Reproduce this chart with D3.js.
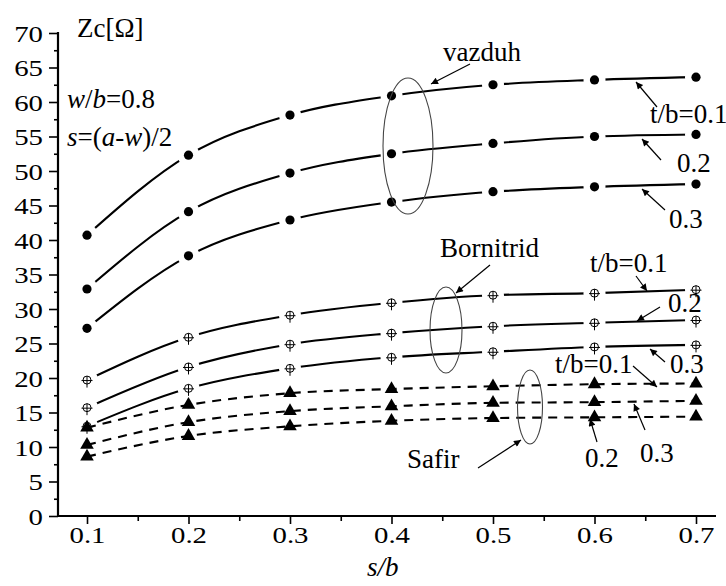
<!DOCTYPE html>
<html><head><meta charset="utf-8">
<script src="https://cdn.jsdelivr.net/npm/d3@7"></script>
<style>
html,body{margin:0;padding:0;background:#fff;}
svg{display:block;}
svg text{font-family:"Liberation Serif","Times New Roman",serif !important;}
</style></head>
<body><svg id="c" width="726" height="586"></svg>
<script>
// ---- data ----
const sb = [0.1, 0.2, 0.3, 0.4, 0.5, 0.6, 0.7];
const vazduh01 = [40.7, 52.3, 58.1, 60.9, 62.5, 63.2, 63.6];
const vazduh02 = [32.9, 44.1, 49.7, 52.5, 54.0, 55.0, 55.3];
const vazduh03 = [27.2, 37.7, 42.9, 45.5, 47.0, 47.7, 48.1];
const bornitrid01 = [19.7, 25.9, 29.1, 30.9, 32.0, 32.3, 32.8];
const bornitrid02 = [15.7, 21.6, 24.9, 26.5, 27.5, 28.0, 28.4];
const bornitrid03 = [13.0, 18.5, 21.4, 23.0, 23.8, 24.5, 24.8];
const safir01 = [12.8, 16.1, 17.8, 18.4, 18.8, 19.1, 19.2];
const safir02 = [10.3, 13.6, 15.2, 15.9, 16.4, 16.5, 16.7];
const safir03 = [8.6, 11.6, 13.0, 13.8, 14.2, 14.3, 14.4];
const xMajorTicks = [0.1, 0.2, 0.3, 0.4, 0.5, 0.6, 0.7];
const xMinorTicks = [0.15, 0.25, 0.35, 0.45, 0.55, 0.65];
const yMajorTicks = [0, 5, 10, 15, 20, 25, 30, 35, 40, 45, 50, 55, 60, 65, 70];
const yMinorTicks = [2.5, 7.5, 12.5, 17.5, 22.5, 27.5, 32.5, 37.5, 42.5, 47.5, 52.5, 57.5, 62.5, 67.5];

const series = [
  {id:"v1", vals:vazduh01, kind:"dot"},
  {id:"v2", vals:vazduh02, kind:"dot"},
  {id:"v3", vals:vazduh03, kind:"dot"},
  {id:"b1", vals:bornitrid01, kind:"cross"},
  {id:"b2", vals:bornitrid02, kind:"cross"},
  {id:"b3", vals:bornitrid03, kind:"cross"},
  {id:"s1", vals:safir01, kind:"tri"},
  {id:"s2", vals:safir02, kind:"tri"},
  {id:"s3", vals:safir03, kind:"tri"}
];

// ---- scales ----
const x = d3.scaleLinear().domain([0.1 - 29/1015, 0.7 + 20/1015]).range([58, 716]);
const y = d3.scaleLinear().domain([0, 70]).range([516, 33]);

const svg = d3.select("#c");
svg.append("rect").attr("width",726).attr("height",586).attr("fill","#fff");
const defs = svg.append("defs");
defs.append("marker").attr("id","ah").attr("viewBox","0 0 10 10")
  .attr("refX",10).attr("refY",5).attr("markerWidth",11).attr("markerHeight",7)
  .attr("markerUnits","userSpaceOnUse").attr("orient","auto")
  .append("path").attr("d","M0,0 L10,5 L0,10 Z").attr("fill","#000");

// ---- axes ----
function styleAxis(g){
  g.attr("font-family", null);
  g.selectAll("line").attr("stroke","#000").attr("stroke-width",1.6);
  g.selectAll("text").attr("fill","#000").attr("font-size",24);
}
const gx = svg.append("g").attr("transform","translate(0,516)");
gx.call(d3.axisBottom(x).tickValues(xMajorTicks).tickSize(8).tickPadding(5).tickFormat(d3.format(".1f")))
  .call(g=>g.select(".domain").remove()).call(styleAxis);
gx.selectAll("text").attr("transform","scale(1.2,1)").attr("dy","0.71em").attr("y",10);
const gxm = svg.append("g").attr("transform","translate(0,516)");
gxm.call(d3.axisBottom(x).tickValues(xMinorTicks).tickSize(5).tickFormat(""))
  .call(g=>g.select(".domain").remove()).call(styleAxis);

const gy = svg.append("g").attr("transform","translate(58,0)");
gy.call(d3.axisLeft(y).tickValues(yMajorTicks).tickSize(9).tickFormat(d3.format("d")))
  .call(g=>g.select(".domain").remove()).call(styleAxis);
gy.selectAll("text").attr("transform","scale(1.2,1)").attr("x",-15/1.2).attr("dy","0.35em");
const gym = svg.append("g").attr("transform","translate(58,0)");
gym.call(d3.axisLeft(y).tickValues(yMinorTicks).tickSize(4).tickFormat(""))
  .call(g=>g.select(".domain").remove()).call(styleAxis);

svg.append("line").attr("x1",57).attr("x2",716).attr("y1",516).attr("y2",516).attr("stroke","#000").attr("stroke-width",2.2);
svg.append("line").attr("x1",58).attr("x2",58).attr("y1",y(70)-1).attr("y2",517).attr("stroke","#000").attr("stroke-width",2.2);

// ---- lines ----
const line = d3.line().x(d=>x(d[0])).y(d=>y(d[1])).curve(d3.curveMonotoneX);
series.forEach(s=>{
  const pts = sb.map((v,i)=>[v, s.vals[i]]);
  const path = svg.append("path").attr("d", line(pts)).attr("fill","none")
    .attr("stroke","#000").attr("stroke-width",2.1);
  if (s.kind === "tri") {
    path.attr("stroke-dasharray","9,7");
  } else {
    const m = defs.append("mask").attr("id","m"+s.id).attr("maskUnits","userSpaceOnUse")
      .attr("x",0).attr("y",0).attr("width",726).attr("height",586);
    m.append("rect").attr("width",726).attr("height",586).attr("fill","#fff");
    m.selectAll("circle").data(pts).join("circle")
      .attr("cx",d=>x(d[0])).attr("cy",d=>y(d[1])).attr("r",11).attr("fill","#000");
    path.attr("mask","url(#m"+s.id+")");
  }
});

// ---- markers ----
series.forEach(s=>{
  const pts = sb.map((v,i)=>[v, s.vals[i]]);
  const g = svg.append("g");
  if (s.kind === "dot") {
    g.selectAll("circle").data(pts).join("circle")
      .attr("cx",d=>x(d[0])).attr("cy",d=>y(d[1])).attr("r",4.6).attr("fill","#000");
  } else if (s.kind === "cross") {
    const mk = g.selectAll("g").data(pts).join("g")
      .attr("transform",d=>`translate(${x(d[0])},${y(d[1])})`);
    mk.append("circle").attr("r",4).attr("fill","#fff").attr("stroke","#000").attr("stroke-width",1);
    mk.append("line").attr("x1",-5.5).attr("x2",5.5).attr("y1",0.5).attr("y2",0.5).attr("stroke","#000").attr("stroke-width",1);
    mk.append("line").attr("x1",0).attr("x2",0).attr("y1",-4).attr("y2",7.5).attr("stroke","#000").attr("stroke-width",1);
  } else {
    g.selectAll("path").data(pts).join("path")
      .attr("d", d3.symbol(d3.symbolTriangle, 80))
      .attr("transform",d=>`translate(${x(d[0])},${y(d[1])})`).attr("fill","#000");
  }
});

// ---- ellipses ----
const ellipses = [
  {cx:408, cy:146, rx:25, ry:68},
  {cx:446, cy:330, rx:16, ry:43},
  {cx:530, cy:407, rx:12.5, ry:37}
];
svg.selectAll("ellipse").data(ellipses).join("ellipse")
  .attr("cx",d=>d.cx).attr("cy",d=>d.cy).attr("rx",d=>d.rx).attr("ry",d=>d.ry)
  .attr("fill","none").attr("stroke","#444").attr("stroke-width",1.1);

// ---- arrows ----
const arrows = [
  [470,64,431,84],
  [657,107,636,82],
  [661,160,642,139],
  [665,210,642,189],
  [490,265,456,293],
  [636,276,647,291],
  [660,307,637,321],
  [665,362,650,349],
  [633,366,657,387],
  [597,442,590,419],
  [645,430,634,404],
  [478,468,521,440]
];
svg.selectAll("line.arr").data(arrows).join("line").attr("class","arr")
  .attr("x1",d=>d[0]).attr("y1",d=>d[1]).attr("x2",d=>d[2]).attr("y2",d=>d[3])
  .attr("stroke","#000").attr("stroke-width",1.2).attr("marker-end","url(#ah)");

// ---- texts ----
const labels = [
  {x:77, y:37, t:"Zc[Ω]"},
  {x:443, y:61, t:"vazduh"},
  {x:650, y:123, t:"t/b=0.1"},
  {x:677, y:172, t:"0.2"},
  {x:669, y:228, t:"0.3"},
  {x:440, y:257, t:"Bornitrid"},
  {x:590, y:272, t:"t/b=0.1"},
  {x:668, y:312, t:"0.2"},
  {x:670, y:373, t:"0.3"},
  {x:555, y:373, t:"t/b=0.1"},
  {x:585, y:467, t:"0.2"},
  {x:640, y:462, t:"0.3"},
  {x:407, y:468, t:"Safir"}
];
svg.selectAll("text.lab").data(labels).join("text").attr("class","lab")
  .attr("x",d=>d.x).attr("y",d=>d.y).attr("font-size",27).attr("fill","#000").text(d=>d.t);

function rich(xp, yp, parts){
  const t = svg.append("text").attr("x",xp).attr("y",yp).attr("font-size",27).attr("fill","#000");
  parts.forEach(p=>t.append("tspan").attr("font-style",p[1]?"italic":"normal").text(p[0]));
}
rich(67,108,[["w",1],["/",0],["b",1],["=0.8",0]]);
rich(67,146,[["s",1],["=(",0],["a",1],["-",0],["w",1],[")/2",0]]);
rich(367,576,[["s/b",1]]);
</script></body></html>
